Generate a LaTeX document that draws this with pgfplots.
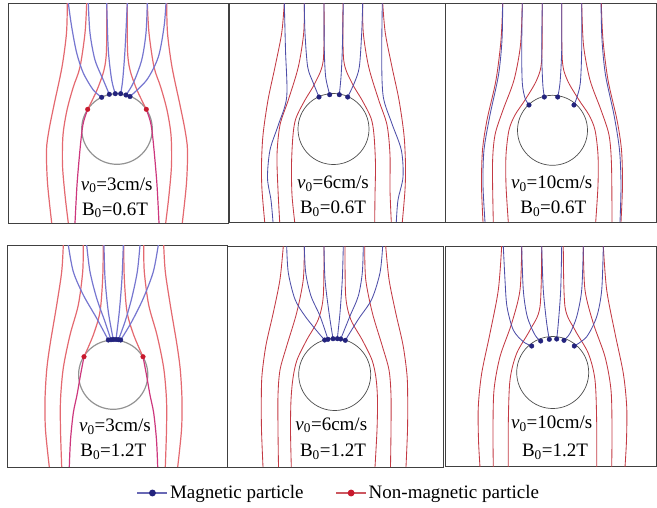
\documentclass[border=0pt]{standalone}
\usepackage{pgfplots}
\pgfplotsset{compat=1.18}
\usepackage{fontspec}
\setmainfont{Liberation Serif}
\definecolor{lblue}{RGB}{118,118,208}
\definecolor{lred}{RGB}{228,105,112}
\definecolor{mag}{RGB}{205,55,125}
\definecolor{mblue}{RGB}{78,78,168}
\definecolor{nred}{RGB}{195,58,68}
\definecolor{dotblue}{RGB}{35,35,125}
\definecolor{dotred}{RGB}{200,25,45}
\newcommand{\fs}{\fontsize{19}{22}\selectfont}
\pgfplotsset{
  panel/.style={scale only axis, y dir=reverse, xtick=\empty, ytick=\empty,
    axis line style={black!75, line width=0.9pt}, anchor=north west, clip=true},
  lb/.style={color=lblue, line width=1.2pt, smooth},
  lr/.style={color=lred, line width=1.2pt, smooth},
  lm/.style={color=mag, line width=1.2pt, smooth},
  mb/.style={color=mblue, line width=0.85pt, smooth},
  mr/.style={color=nred, line width=0.85pt, smooth},
  dotb/.style={only marks, mark=*, mark size=2.3pt, color=dotblue},
  dotr/.style={only marks, mark=*, mark size=2.3pt, color=dotred},
}
\begin{document}
\begin{tikzpicture}
\path[use as bounding box] (0,0) rectangle (657pt,-507pt);
% ---------------- Panel 1 ----------------
\begin{axis}[panel, at={(8pt,-3pt)}, width=220pt, height=220pt, xmin=8, xmax=228, ymin=3, ymax=223]
\draw[gray!85, line width=1.2pt] (axis cs:117,129) circle[radius=35.3pt];
\addplot[lr] coordinates {(67.3,3) (66.5,33) (62,67) (54,105) (49,130) (46.5,150) (47.5,183) (51.7,223)};
\addplot[lr] coordinates {(86.7,3) (85,33) (80,67) (73.3,87) (67,110) (63,135) (62.5,165) (65,195) (68.3,223)};
\addplot[lr] coordinates {(106.7,3) (106.5,50) (104,70) (97,90) (87.7,109.3)};
\addplot[lm] coordinates {(87.7,109.3) (83.5,122) (81.5,135) (79.5,155) (77,185) (75,223)};
\addplot[lr] coordinates {(166.7,3) (167.5,33) (172,67) (180,105) (185,130) (187.5,150) (186.5,183) (182.3,223)};
\addplot[lr] coordinates {(147.3,3) (149,33) (154,67) (160.7,87) (167,110) (171,135) (171.5,165) (169,195) (165.7,223)};
\addplot[lr] coordinates {(127.3,3) (127.5,50) (130,70) (137,90) (146.3,109.3)};
\addplot[lm] coordinates {(146.3,109.3) (150.5,122) (152.5,135) (154.5,155) (157,185) (159,223)};
\addplot[lb] coordinates {(68.3,3) (71.7,27) (76.7,53) (83.3,73) (93.3,90) (101.7,97.3)};
\addplot[lb] coordinates {(88.3,3) (90,33) (95,60) (103.3,80) (109.3,94.3)};
\addplot[lb] coordinates {(106.7,3) (108.3,50) (111.7,80) (115.3,93.7)};
\addplot[lb] coordinates {(127.3,3) (125,50) (122.7,80) (120.7,93.7)};
\addplot[lb] coordinates {(147.3,3) (146,33) (141.7,60) (133.3,83) (126,95)};
\addplot[lb] coordinates {(166,3) (164,27) (158.3,57) (146.7,80) (130,96.5)};
\addplot[dotb] coordinates {(101.7,97.3) (109.3,94.3) (115.3,93.7) (120.7,93.7) (126,95) (130,96.5)};
\addplot[dotr] coordinates {(87.7,109.3) (146.3,109.3)};
\node[font=\fs, anchor=base] at (axis cs:116.7,190) {\textit{v}\textsubscript{0}=3cm/s};
\node[font=\fs, anchor=base] at (axis cs:115,215) {B\textsubscript{0}=0.6T};
\end{axis}
% ---------------- Panel 2 ----------------
\begin{axis}[panel, at={(229.5pt,-3pt)}, width=215.5pt, height=219pt, xmin=229.5, xmax=445, ymin=3, ymax=222]
\draw[black!70, line width=0.7pt] (axis cs:333.5,129) circle[radius=35.5pt];
\addplot[mr] coordinates {(284.3,3) (281.7,33) (275,67) (268,100) (263,135) (261.5,165) (262,190) (264.7,222)};
\addplot[mr] coordinates {(304.3,3) (303.7,33) (298.3,67) (288.3,100) (280,125) (277,155) (278,190) (279.7,222)};
\addplot[mr] coordinates {(324,3) (323.3,60) (315,83) (305,100) (296,118) (293,135) (291.5,165) (292,195) (294.7,222)};
\addplot[mr] coordinates {(382.7,3) (385.3,33) (392,67) (399,100) (404,135) (405.5,165) (405,190) (402.3,222)};
\addplot[mr] coordinates {(362.7,3) (363.3,33) (368.7,67) (378.7,100) (387,125) (390,155) (390,190) (391.3,222)};
\addplot[mr] coordinates {(343,3) (343.7,60) (352,83) (362,100) (371,118) (374,135) (375.5,165) (375,195) (374.7,222)};
\addplot[mb] coordinates {(304.3,3) (305,33) (307.7,67) (313.3,83) (319,97)};
\addplot[mb] coordinates {(324,3) (324.3,50) (325.7,77) (329.7,94.7)};
\addplot[mb] coordinates {(343.3,3) (342.3,50) (341,77) (339.3,94.7)};
\addplot[mb] coordinates {(362.7,3) (361.7,33) (359.3,67) (354.3,83) (347.7,97)};
\addplot[mb] coordinates {(284.3,3) (285.5,50) (286.7,97) (278.3,125) (270,150) (267.5,178) (271,200) (273,222)};
\addplot[mb] coordinates {(382.3,3) (381.7,60) (383.3,97) (391.7,123) (401.3,150) (403,177) (398,200) (396.3,222)};
\addplot[dotb] coordinates {(319,97) (329.7,94.7) (339.3,94.7) (347.7,97)};
\node[font=\fs, anchor=base] at (axis cs:333,188.3) {\textit{v}\textsubscript{0}=6cm/s};
\node[font=\fs, anchor=base] at (axis cs:333,213.3) {B\textsubscript{0}=0.6T};
\end{axis}
% ---------------- Panel 3 ----------------
\begin{axis}[panel, at={(445pt,-3pt)}, width=211pt, height=219pt, xmin=445, xmax=656, ymin=3, ymax=222]
\draw[black!70, line width=0.7pt] (axis cs:552.5,130.3) circle[radius=35pt];
\addplot[mr] coordinates {(502.7,3) (501,40) (496,80) (487,120) (482.5,150) (481.5,185) (483,222)};
\addplot[mr] coordinates {(522.3,3) (520.5,45) (514,80) (503,110) (495,135) (492.5,165) (493.3,222)};
\addplot[mr] coordinates {(542.3,3) (541.7,60) (536.7,80) (525,100) (515,115) (509,130) (506,155) (506,185) (508.3,222)};
\addplot[mr] coordinates {(601.3,3) (603,40) (608,80) (617,120) (621.5,150) (622.5,185) (621,222)};
\addplot[mr] coordinates {(581.7,3) (583.5,45) (590,80) (601,110) (609,135) (611.5,165) (612,222)};
\addplot[mr] coordinates {(561.7,3) (562.3,60) (567.3,80) (579,100) (589,115) (595,130) (598,155) (598,185) (595.7,222)};
\addplot[mb] coordinates {(522.3,3) (521.7,50) (522.3,83) (525,98) (529,105)};
\addplot[mb] coordinates {(542.3,3) (541.7,50) (542.7,83) (544.3,97)};
\addplot[mb] coordinates {(561.7,3) (561.7,50) (560,83) (557.7,97)};
\addplot[mb] coordinates {(581.7,3) (581.7,50) (580.3,83) (576.7,98) (574,105)};
\addplot[mb] coordinates {(502.7,3) (502,40) (498.5,75) (490,115) (484,150) (483,185) (485,222)};
\addplot[mb] coordinates {(601,3) (602,40) (605.5,75) (614,115) (619.5,150) (621,185) (620,222)};
\addplot[dotb] coordinates {(529,105) (544.3,97) (557.7,97) (574,105)};
\node[font=\fs, anchor=base] at (axis cs:551.7,188.3) {\textit{v}\textsubscript{0}=10cm/s};
\node[font=\fs, anchor=base] at (axis cs:553.3,213.3) {B\textsubscript{0}=0.6T};
\end{axis}
% ---------------- Panel 4 ----------------
\begin{axis}[panel, at={(7pt,-245pt)}, width=220pt, height=222pt, xmin=7, xmax=227, ymin=245, ymax=467]
\draw[gray!85, line width=1.2pt] (axis cs:113.2,374.7) circle[radius=34.6pt];
\addplot[lr] coordinates {(63.3,245) (61.7,271.7) (56.7,305) (50,345) (46.7,370) (45,400) (45.5,430) (49.3,467)};
\addplot[lr] coordinates {(83.3,245) (82.7,271.7) (78.3,305) (70,335) (63.3,368) (60.5,400) (60.5,430) (61.7,467)};
\addplot[lr] coordinates {(103.3,245) (102.7,278) (100,311.7) (93.3,335) (84,356.7)};
\addplot[lm] coordinates {(84,356.7) (80.5,375) (77,395) (73.3,413) (70.5,440) (69.3,467)};
\addplot[lr] coordinates {(163.7,245) (165.3,271.7) (170.3,305) (177,345) (180.3,370) (182,400) (181.5,430) (177.7,467)};
\addplot[lr] coordinates {(143.7,245) (144.3,271.7) (148.7,305) (157,335) (163.7,368) (166.5,400) (166.5,430) (165.3,467)};
\addplot[lr] coordinates {(123.7,245) (124.3,278) (127,311.7) (133.7,335) (143,356.7)};
\addplot[lm] coordinates {(143,356.7) (146.5,375) (150,395) (153.7,413) (156.5,440) (157.7,467)};
\addplot[lb] coordinates {(68.3,245) (73.3,271.7) (83.3,295) (96.7,318.3) (108.3,340)};
\addplot[lb] coordinates {(86.7,245) (90,271.7) (96.7,298.3) (105,321.7) (111,340)};
\addplot[lb] coordinates {(104,245) (105,278) (108.3,311.7) (113.3,339.5)};
\addplot[lb] coordinates {(123.3,245) (122,278) (119.3,311.7) (116,339.5)};
\addplot[lb] coordinates {(140,245) (137.3,271.7) (131.7,298.3) (125,321.7) (118.3,340)};
\addplot[lb] coordinates {(158.3,245) (153.3,271.7) (143.3,298.3) (131.7,321.7) (120.7,340)};
\addplot[dotb] coordinates {(108.3,340) (111,339.7) (113.3,339.5) (116,339.5) (118.3,339.7) (120.7,340)};
\addplot[dotr] coordinates {(84,356.7) (143,356.7)};
\node[font=\fs, anchor=base] at (axis cs:115,431.7) {\textit{v}\textsubscript{0}=3cm/s};
\node[font=\fs, anchor=base] at (axis cs:113.3,456.7) {B\textsubscript{0}=1.2T};
\end{axis}
% ---------------- Panel 5 ----------------
\begin{axis}[panel, at={(227pt,-246pt)}, width=216pt, height=221pt, xmin=227, xmax=443, ymin=246, ymax=467]
\draw[black!70, line width=0.7pt] (axis cs:334.7,374.5) circle[radius=36pt];
\addplot[mr] coordinates {(283.3,246) (280,279.3) (273.3,312.7) (266,345) (262,375) (261.3,400) (261.5,430) (263,467)};
\addplot[mr] coordinates {(304.3,246) (303.3,279.3) (296.7,312.7) (286.7,346) (280,370) (278,395) (278,430) (278.5,467)};
\addplot[mr] coordinates {(324,246) (323.3,296) (318.3,319.3) (306.7,340) (297,360) (293,378) (291,400) (290.5,430) (291.3,467)};
\addplot[mr] coordinates {(385.7,246) (389,279.3) (395.7,312.7) (403,345) (407,375) (407.7,400) (407.5,430) (406,467)};
\addplot[mr] coordinates {(364.7,246) (365.7,279.3) (372.3,312.7) (382.3,346) (389,370) (391,395) (391,430) (390.5,467)};
\addplot[mr] coordinates {(345,246) (345.7,296) (350.7,319.3) (362.3,340) (372,360) (376,378) (377.5,400) (377,430) (375,467)};
\addplot[mb] coordinates {(286.7,246) (288.3,272.7) (295,299.3) (305,316) (318.3,332.7) (324.7,340)};
\addplot[mb] coordinates {(304.3,246) (305.7,272.7) (311,296) (320,316) (328,339.3)};
\addplot[mb] coordinates {(324,246) (325,279.3) (329,312.7) (333,338.7)};
\addplot[mb] coordinates {(343.3,246) (342.3,279.3) (340,312.7) (337.3,338.7)};
\addplot[mb] coordinates {(363.3,246) (362.3,272.7) (358.3,296) (350,316) (340.7,339)};
\addplot[mb] coordinates {(382.7,246) (380,272.7) (371.7,299.3) (358.3,319.3) (345.3,340.3)};
\addplot[dotb] coordinates {(324.7,340) (328,339.3) (333,338.7) (337.3,338.7) (340.7,339) (345.3,340.3)};
\node[font=\fs, anchor=base] at (axis cs:331.3,430) {\textit{v}\textsubscript{0}=6cm/s};
\node[font=\fs, anchor=base] at (axis cs:333,456.7) {B\textsubscript{0}=1.2T};
\end{axis}
% ---------------- Panel 6 ----------------
\begin{axis}[panel, at={(445pt,-246pt)}, width=211pt, height=220pt, xmin=445, xmax=656, ymin=246, ymax=466]
\draw[black!70, line width=0.7pt] (axis cs:552.7,372.5) circle[radius=36pt];
\addplot[mr] coordinates {(501.7,246) (498.3,290) (490,333.3) (481.7,373.3) (478.3,406.7) (478.5,440) (480,467)};
\addplot[mr] coordinates {(521.7,246) (520,290) (511.7,323.3) (500,356.7) (494,390) (493,430) (493.3,467)};
\addplot[mr] coordinates {(541.7,246) (540,306.7) (530,330) (516.7,353.3) (510,380) (508.3,423.3) (508.3,467)};
\addplot[mr] coordinates {(603.3,246) (606.7,290) (615,333.3) (623.3,373.3) (626.7,406.7) (626.5,440) (625,467)};
\addplot[mr] coordinates {(583.3,246) (585,290) (593.3,323.3) (605,356.7) (611,390) (612,430) (611.7,467)};
\addplot[mr] coordinates {(563.3,246) (565,306.7) (575,330) (588.3,353.3) (595,380) (596.7,423.3) (596.7,467)};
\addplot[mb] coordinates {(503.3,246) (505,280) (507,306.7) (513.3,330) (523.3,341.7) (531.7,346)};
\addplot[mb] coordinates {(521.7,246) (523.3,290) (527.3,316.7) (535,335) (540.7,341)};
\addplot[mb] coordinates {(541.7,246) (543.3,290) (546.7,323.3) (549.3,339.3)};
\addplot[mb] coordinates {(561.7,246) (560.7,290) (558.3,323.3) (556.7,339)};
\addplot[mb] coordinates {(583.3,246) (581.7,290) (576.7,316.7) (570,333.3) (564,340.3)};
\addplot[mb] coordinates {(603.3,246) (601.7,290) (596.7,316.7) (586.7,336.7) (574.3,346)};
\addplot[dotb] coordinates {(531.7,346) (540.7,341) (549.3,339.3) (556.7,339) (564,340.3) (574.3,346)};
\node[font=\fs, anchor=base] at (axis cs:551.7,428.3) {\textit{v}\textsubscript{0}=10cm/s};
\node[font=\fs, anchor=base] at (axis cs:555,456.7) {B\textsubscript{0}=1.2T};
\end{axis}
% ---------------- Legend ----------------
\begin{axis}[at={(227pt,-246pt)}, anchor=north west, scale only axis, width=216pt, height=221pt,
  hide axis, xmin=0, xmax=1, ymin=0, ymax=1,
  legend columns=2,
  legend style={draw=none, fill=none, font=\fs, at={(0.5185,-0.1176)}, anchor=center,
    /tikz/every even column/.append style={column sep=30pt}},
  legend image code/.code={\draw[mark repeat=2, mark phase=2] plot coordinates {(0pt,0pt) (15pt,0pt) (30pt,0pt)};}]
\addlegendimage{color=mblue!85!white, line width=1.2pt, mark=*, mark size=2.8pt, mark options={color=dotblue}}
\addlegendentry{Magnetic particle}
\addlegendimage{color=nred!85!white, line width=1.2pt, mark=*, mark size=2.8pt, mark options={color=dotred}}
\addlegendentry{Non-magnetic particle}
\end{axis}
\end{tikzpicture}
\end{document}
